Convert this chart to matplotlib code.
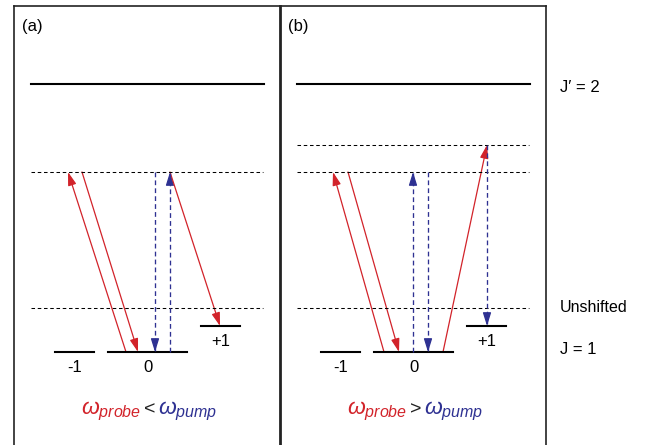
import matplotlib
matplotlib.use("Agg")
import matplotlib.pyplot as plt
from matplotlib.patches import FancyArrowPatch
from matplotlib.offsetbox import TextArea, HPacker, AnnotationBbox

plt.rcParams['font.family'] = ['Liberation Sans', 'DejaVu Sans']
plt.rcParams['mathtext.fontset'] = 'custom'
plt.rcParams['mathtext.rm'] = 'Liberation Sans'
plt.rcParams['mathtext.it'] = 'Liberation Sans:italic'

RED = '#d2232a'
BLUE = '#2e3192'

# ---- data (pixel coordinates of the diagram) ----
panel_labels = ['(a)', '(b)']
panel_offsets = [0, 266]
upper_level_y = 84
virtual_level_y = 172
virtual_level_b_y = 145
unshifted_y = 308
sub_labels = ['-1', '0', '+1']
sub_x0 = [55, 108, 201]
sub_x1 = [94, 187, 240]
sub_y = [352, 352, 326]

# arrows: (x0, y0, x1, y1, color, dashed)
arrows_a = [
    (126, 352, 68, 172, 'red', False),
    (82, 172, 138, 352, 'red', False),
    (155, 172, 155, 352, 'blue', True),
    (170, 352, 170, 172, 'blue', True),
    (170, 172, 220, 326, 'red', False),
]
arrows_b = [
    (384, 352, 333, 172, 'red', False),
    (348, 172, 399, 352, 'red', False),
    (413, 352, 413, 172, 'blue', True),
    (428, 172, 428, 352, 'blue', True),
    (443, 352, 487, 145, 'red', False),
    (487, 145, 487, 326, 'blue', True),
]
relations = ['<', '>']
right_labels = ["J\u2032 = 2", 'Unshifted', 'J = 1']
right_label_y = [87, 308, 350]

W, H = 645, 445
fig = plt.figure(figsize=(W / 100, H / 100), dpi=100)
ax = fig.add_axes([0, 0, 1, 1])
ax.set_xlim(0, W)
ax.set_ylim(H, 0)
ax.axis('off')

# frame
frame_c = '#222222'
ax.plot([14, 546], [6, 6], color=frame_c, lw=1.2, solid_capstyle='projecting')
ax.plot([14, 14], [6, H + 5], color=frame_c, lw=1.2)
ax.plot([546, 546], [6, H + 5], color=frame_c, lw=1.2)
ax.plot([280, 280], [6, H + 5], color=frame_c, lw=2.0)

HEAD_LEN = 8
def arrow(x0, y0, x1, y1, col, dashed):
    c = RED if col == 'red' else BLUE
    style = '-|>,head_length=%f,head_width=2.5' % HEAD_LEN
    if dashed:
        ax.plot([x0, x1], [y0, y1], color=c, lw=0.95, linestyle=(0, (3.6, 2.4)))
        dx, dy = x1 - x0, y1 - y0
        L = (dx ** 2 + dy ** 2) ** 0.5
        hl = 11
        sx, sy = x1 - dx / L * hl, y1 - dy / L * hl
        p = FancyArrowPatch((sx, sy), (x1, y1), arrowstyle=style,
                            mutation_scale=1, color=c, lw=0.9,
                            shrinkA=0, shrinkB=0)
    else:
        p = FancyArrowPatch((x0, y0), (x1, y1), arrowstyle=style,
                            mutation_scale=1, color=c, lw=0.9,
                            shrinkA=0, shrinkB=0)
    ax.add_patch(p)

dash_ls = (0, (3.4, 2.6))
for k, off in enumerate(panel_offsets):
    ax.text(22 + off, 26.5, panel_labels[k], fontsize=12, ha='left', va='center')
    ax.plot([31 + off, 264 + off], [upper_level_y] * 2, color='black', lw=1.5)
    ax.plot([31 + off, 263 + off], [virtual_level_y] * 2, color='black', lw=0.75, linestyle=dash_ls)
    ax.plot([31 + off, 263 + off], [unshifted_y] * 2, color='black', lw=0.75, linestyle=dash_ls)
    if k == 1:
        ax.plot([31 + off, 263 + off], [virtual_level_b_y] * 2, color='black', lw=0.75, linestyle=dash_ls)
    for i, lab in enumerate(sub_labels):
        ax.plot([sub_x0[i] + off, sub_x1[i] + off], [sub_y[i]] * 2, color='black', lw=1.5)
        ax.text((sub_x0[i] + sub_x1[i]) / 2 + off, sub_y[i] + 16, lab,
                fontsize=12, ha='center', va='center')

for a in arrows_a + arrows_b:
    arrow(*a)

# bottom relation text
centers = [149, 415]
for k, rel in enumerate(relations):
    t1 = TextArea(r'$\omega_{probe}$', textprops=dict(color=RED, fontsize=16.5))
    t2 = TextArea(rel, textprops=dict(color='#222222', fontsize=14))
    t3 = TextArea(r'$\omega_{pump}$', textprops=dict(color=BLUE, fontsize=16.5))
    box = HPacker(children=[t1, t2, t3], align='baseline', pad=0, sep=2)
    ab = AnnotationBbox(box, (centers[k], 410), xycoords='data', frameon=False,
                        box_alignment=(0.5, 0.5), pad=0)
    ax.add_artist(ab)

for lab, y in zip(right_labels, right_label_y):
    fs = 11.5 if lab == 'Unshifted' else 12
    ax.text(560, y, lab, fontsize=fs, ha='left', va='center')

fig.savefig('out.png', dpi=100)
